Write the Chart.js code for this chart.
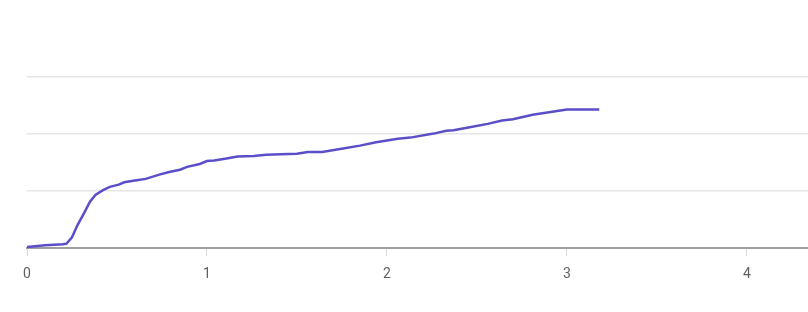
<!DOCTYPE html>
<html>
<head>
<meta charset="utf-8">
<script src="https://cdn.jsdelivr.net/npm/chart.js@4/dist/chart.umd.min.js"></script>
<style>
  html, body { margin: 0; padding: 0; background: #fff; }
  .chart-box { width: 808px; height: 312px; }
</style>
</head>
<body>
<div class="chart-box">
  <canvas id="myChart" width="808" height="312"></canvas>
</div>
<script>
// values
const xValues = [0, 0.10, 0.20, 0.22, 0.25, 0.28, 0.32, 0.35, 0.38, 0.42, 0.46, 0.51, 0.54, 0.60, 0.66,
  0.73, 0.79, 0.85, 0.89, 0.96, 1.00, 1.04, 1.10, 1.17, 1.26, 1.33, 1.41, 1.50, 1.56, 1.64, 1.74,
  1.85, 1.94, 2.06, 2.13, 2.26, 2.33, 2.37, 2.46, 2.56, 2.64, 2.70, 2.81, 3.00, 3.18];
const yValues = [0.02, 0.05, 0.07, 0.08, 0.19, 0.40, 0.63, 0.81, 0.93, 1.01, 1.07, 1.11, 1.15, 1.18, 1.21,
  1.28, 1.33, 1.37, 1.42, 1.47, 1.52, 1.53, 1.56, 1.60, 1.61, 1.63, 1.64, 1.65, 1.68, 1.68, 1.73,
  1.79, 1.85, 1.91, 1.93, 2.00, 2.05, 2.06, 2.11, 2.17, 2.23, 2.25, 2.33, 2.42, 2.42];
const xTicks = [0, 1, 2, 3, 4];

let points = [];
for (let i = 0; i < xValues.length; i++) {
  points.push({ x: xValues[i], y: yValues[i] });
}

var ctx = document.getElementById('myChart');
var myChart = new Chart(ctx, {
  type: 'line',
  data: {
    datasets: [{
      data: points,
      borderColor: '#5b4fc9',
      borderWidth: 2.5,
      pointRadius: 0,
      tension: 0,
      fill: false,
    }],
  },
  options: {
    responsive: false,
    animation: false,
    layout: { padding: { top: 19, left: 27, right: 0, bottom: 19 } },
    plugins: { legend: { display: false }, tooltip: { enabled: false } },
    scales: {
      x: {
        type: 'linear',
        min: 0,
        max: 4.34,
        afterBuildTicks: (axis) => { axis.ticks = xTicks.map(v => ({ value: v })); },
        border: { color: '#9e9e9e', width: 2 },
        grid: { drawOnChartArea: false, drawTicks: true, tickLength: 8, tickColor: '#d8d8d8' },
        ticks: {
          padding: 10,
          color: '#5f5f5f',
          font: { family: 'Roboto', size: 14 },
          maxRotation: 0,
        },
      },
      y: {
        min: 0,
        max: 4,
        ticks: { display: false, stepSize: 1 },
        border: { display: false },
        grid: {
          drawTicks: false,
          color: (c) => (c.tick.value === 0 || c.tick.value === 4) ? 'rgba(0,0,0,0)' : '#e6e6e6',
          lineWidth: 1.5,
        },
      },
    },
  },
});
</script>
</body>
</html>
